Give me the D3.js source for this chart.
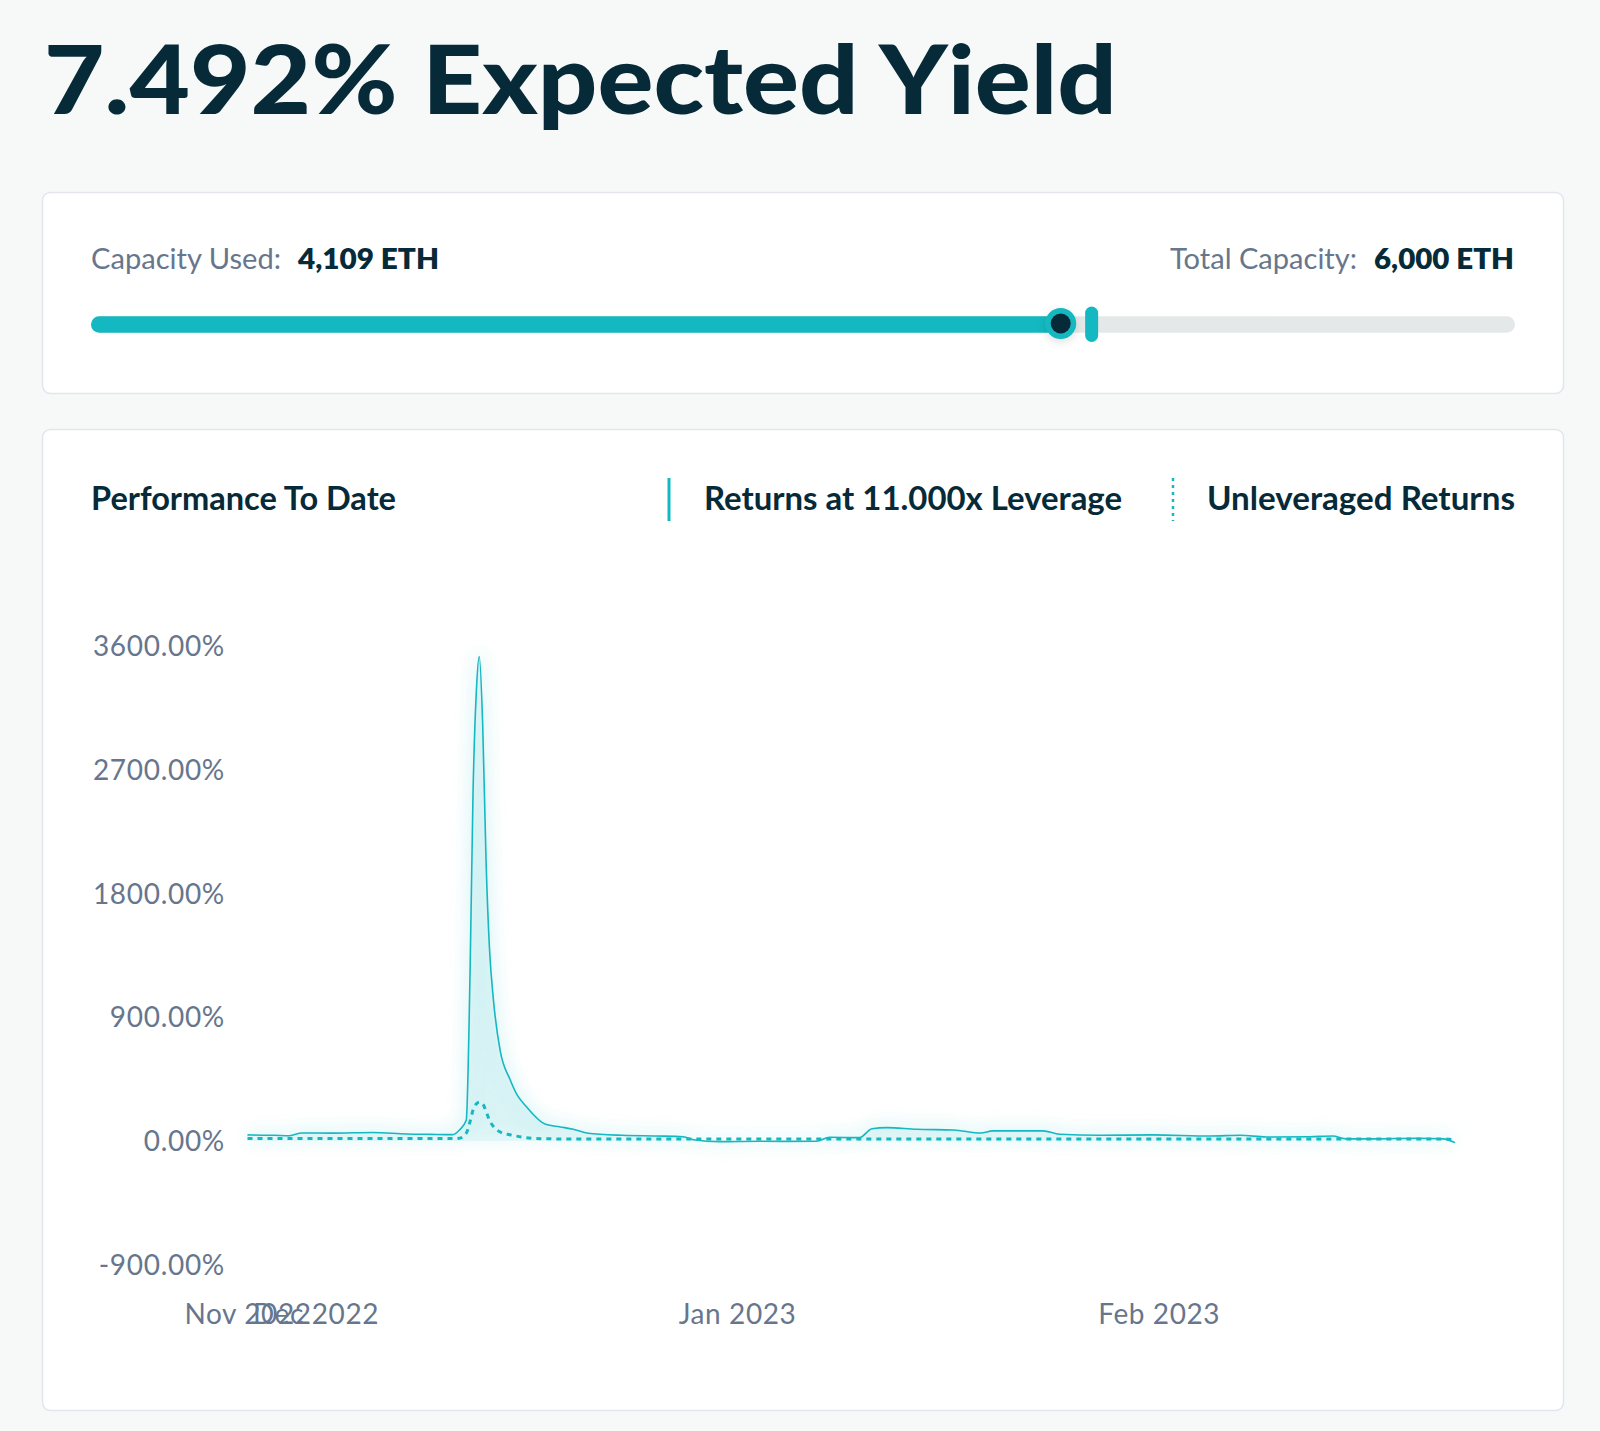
<!DOCTYPE html>
<html><head><meta charset="utf-8">
<script src="https://cdn.jsdelivr.net/npm/d3@7"></script>
<style>
html,body{margin:0;padding:0;background:#f7f9f9;}
svg{display:block;font-family:Lato,"Open Sans",sans-serif;}
</style></head><body>
<svg id="c" width="1600" height="1431"></svg>
<script>
// ---------- data ----------
const headline = "7.492% Expected Yield";
const capacityLabels = ["Capacity Used:", "Total Capacity:"];
const capacityValues = [4109, 6000];          // ETH used, ETH total
const capacityMarker = [4240];                 // position of the limit marker on the slider
const chartTitle = "Performance To Date";
const seriesNames = ["Returns at 11.000x Leverage", "Unleveraged Returns"];

const dates = [
 "2022-11-26T00:00Z","2022-11-27T00:00Z","2022-11-28T00:00Z","2022-11-29T02:00Z","2022-11-30T00:00Z",
 "2022-12-02T07:00Z","2022-12-05T05:00Z","2022-12-07T17:00Z","2022-12-09T12:00Z","2022-12-11T02:00Z",
 "2022-12-11T14:00Z","2022-12-12T02:00Z","2022-12-12T09:00Z","2022-12-12T14:00Z","2022-12-12T20:00Z",
 "2022-12-13T01:00Z","2022-12-13T07:00Z","2022-12-13T13:00Z","2022-12-13T19:00Z","2022-12-14T02:00Z",
 "2022-12-14T14:00Z","2022-12-15T07:00Z","2022-12-15T19:00Z","2022-12-16T12:00Z","2022-12-17T22:00Z",
 "2022-12-19T00:00Z","2022-12-19T23:00Z","2022-12-21T01:00Z","2022-12-23T14:00Z","2022-12-26T00:00Z",
 "2022-12-28T01:00Z","2022-12-28T19:00Z","2022-12-30T17:00Z","2023-01-02T17:00Z","2023-01-04T12:00Z",
 "2023-01-06T20:00Z","2023-01-07T19:00Z","2023-01-10T00:00Z","2023-01-10T22:00Z","2023-01-12T00:00Z",
 "2023-01-14T05:00Z","2023-01-16T22:00Z","2023-01-18T22:00Z","2023-01-19T19:00Z","2023-01-23T12:00Z",
 "2023-01-24T17:00Z","2023-01-27T17:00Z","2023-01-31T14:00Z","2023-02-04T19:00Z","2023-02-07T00:00Z",
 "2023-02-08T22:00Z","2023-02-12T02:00Z","2023-02-13T19:00Z","2023-02-14T19:00Z","2023-02-16T19:00Z",
 "2023-02-20T00:00Z","2023-02-21T22:00Z","2023-02-22T19:00Z"
];
const leveraged = [
 44,42,41,38,58,
 57,62,51,48,46,
 80,150,1280,2530,3280,
 3520,3030,2030,1400,1025,
 654,450,340,250,121,
 102,85,56,41,36,
 31,9,-5,-2,-3,
 -2,27,24,89,97,
 85,80,58,73,73,
 49,41,44,36,41,
 29,31,36,15,15,
 20,15,-12
];
const unleveraged = [
 17,17,17,17,17,
 17,17,17,17,17,
 20,56,145,225,270,
 282,270,215,150,105,
 65,45,35,24,16,
 15,15,15,15,15,
 15,15,15,15,15,
 15,15,15,15,15,
 15,15,15,15,15,
 15,15,15,15,15,
 15,15,15,15,15,
 15,15,7
];
const yTicks = [-900, 0, 900, 1800, 2700, 3600];
const xTickDates = ["2022-11-26T00:00Z","2022-12-01T00:00Z","2023-01-01T00:00Z","2023-02-01T00:00Z"];
const xTickLabels = ["Nov 2022","Dec 2022","Jan 2023","Feb 2023"];
const xDomain = ["2022-11-26T00:00Z","2023-02-23T00:00Z"];

// ---------- styles ----------
const TEAL = "#14b8c0", DARK = "#062a38", GREY = "#67768d";
const svg = d3.select("#c");
const defs = svg.append("defs");
defs.append("filter").attr("id","glow").attr("x","-30%").attr("y","-30%").attr("width","160%").attr("height","160%")
  .append("feGaussianBlur").attr("stdDeviation", 9);
const sh = defs.append("filter").attr("id","kshadow").attr("x","-50%").attr("y","-50%").attr("width","200%").attr("height","200%");
sh.append("feDropShadow").attr("dx",0).attr("dy",3).attr("stdDeviation",4).attr("flood-color","#000").attr("flood-opacity",0.12);

// headline
svg.append("text").attr("x",44).attr("y",114).attr("font-size",96).attr("font-weight",900)
  .attr("fill",DARK).attr("textLength",1073).attr("lengthAdjust","spacingAndGlyphs").text(headline);

// cards
svg.append("rect").attr("x",42.5).attr("y",192.5).attr("width",1521).attr("height",201).attr("rx",8)
  .attr("fill","#fff").attr("stroke","#e2e5ee").attr("stroke-width",1.5);
svg.append("rect").attr("x",42.5).attr("y",429.5).attr("width",1521).attr("height",981).attr("rx",8)
  .attr("fill","#fff").attr("stroke","#e2e5ee").attr("stroke-width",1.5);

// capacity row
const fmt = d3.format(",");
const capRow = [
  {t:capacityLabels[0], x:91, w:190, bold:false},
  {t:fmt(capacityValues[0])+" ETH", x:298, w:141, bold:true},
  {t:capacityLabels[1], x:1170, w:187, bold:false},
  {t:fmt(capacityValues[1])+" ETH", x:1374, w:140, bold:true}
];
svg.selectAll("text.cap").data(capRow).join("text").attr("class","cap")
  .attr("x",d=>d.x).attr("y",268.5).attr("font-size",28)
  .attr("font-weight",d=>d.bold?800:400).attr("fill",d=>d.bold?DARK:GREY)
  .attr("textLength",d=>d.w).attr("lengthAdjust","spacingAndGlyphs").text(d=>d.t);

// slider
const sx = d3.scaleLinear().domain([0, capacityValues[1]]).range([91, 1507]);
const trackY = 324.5;
svg.append("rect").attr("x",91).attr("y",trackY-8.25).attr("width",1424).attr("height",16.5).attr("rx",8.25).attr("fill","#e4e8e8");
svg.append("rect").attr("x",91).attr("y",trackY-8.25).attr("width",sx(capacityValues[0])-91).attr("height",16.5).attr("rx",8.25).attr("fill",TEAL);
svg.selectAll("rect.mark").data(capacityMarker).join("rect").attr("class","mark")
  .attr("x",d=>sx(d)-6.5).attr("y",306.5).attr("width",13).attr("height",35.5).attr("rx",6.5).attr("fill",TEAL);
svg.append("circle").attr("cx",sx(capacityValues[0])).attr("cy",trackY-1).attr("r",15.5).attr("fill",TEAL).attr("filter","url(#kshadow)");
svg.append("circle").attr("cx",sx(capacityValues[0])).attr("cy",trackY-1).attr("r",10).attr("fill",DARK);

// chart header + legend
const header = [
  {t:chartTitle, x:91, w:305},
  {t:seriesNames[0], x:704, w:418},
  {t:seriesNames[1], x:1207, w:308}
];
svg.selectAll("text.hdr").data(header).join("text").attr("class","hdr")
  .attr("x",d=>d.x).attr("y",510).attr("font-size",32).attr("font-weight",700).attr("fill",DARK)
  .attr("textLength",d=>d.w).attr("lengthAdjust","spacingAndGlyphs").text(d=>d.t);
svg.append("line").attr("x1",669).attr("x2",669).attr("y1",478).attr("y2",521).attr("stroke",TEAL).attr("stroke-width",3);
svg.append("line").attr("x1",1173).attr("x2",1173).attr("y1",478).attr("y2",521).attr("stroke",TEAL).attr("stroke-width",2.5).attr("stroke-dasharray","3,4");

// scales
const parse = s => new Date(s);
const x = d3.scaleUtc().domain(xDomain.map(parse)).range([247.5, 1457.9]);
const y = d3.scaleLinear().domain([-900, 3600]).range([1264.8, 645.6]);
const pts = dates.map((d,i)=>({d:parse(d), lev:leveraged[i], unl:unleveraged[i]}));

// axes
const yAxis = svg.append("g").attr("transform","translate(225,0)")
  .call(d3.axisLeft(y).tickValues(yTicks).tickSize(0).tickPadding(0).tickFormat(d=>d.toFixed(2)+"%"));
yAxis.select(".domain").remove();
yAxis.selectAll("text").attr("font-size",28).attr("letter-spacing","0.7px").attr("font-family","Lato, sans-serif").attr("fill",GREY).attr("dy","0.35em");

const xAxis = svg.append("g").attr("transform","translate(0,1323.5)")
  .call(d3.axisBottom(x).tickValues(xTickDates.map(parse)).tickSize(0).tickPadding(0)
    .tickFormat((d,i)=>xTickLabels[i]));
xAxis.select(".domain").remove();
xAxis.selectAll("text").attr("y",0).attr("dy",null).attr("font-size",28).attr("letter-spacing","0.6px").attr("font-family","Lato, sans-serif").attr("fill",GREY);

// series
const curve = d3.curveMonotoneX;
const area = d3.area().x(d=>x(d.d)).y0(y(0)).y1(d=>y(d.lev)).curve(curve);
const lineLev = d3.line().x(d=>x(d.d)).y(d=>y(d.lev)).curve(curve);
const lineUnl = d3.line().x(d=>x(d.d)).y(d=>y(d.unl)).curve(curve);

svg.append("path").datum(pts).attr("d",area).attr("fill",TEAL).attr("opacity",0.09).attr("filter","url(#glow)");
svg.append("path").datum(pts).attr("d",lineLev).attr("fill","none").attr("stroke",TEAL).attr("stroke-width",14).attr("opacity",0.07).attr("filter","url(#glow)");
svg.append("path").datum(pts).attr("d",area).attr("fill",TEAL).attr("opacity",0.07);
svg.append("path").datum(pts).attr("d",lineUnl).attr("fill","none").attr("stroke",TEAL).attr("stroke-width",3).attr("stroke-dasharray","5,5");
svg.append("path").datum(pts).attr("d",lineLev).attr("fill","none").attr("stroke",TEAL).attr("stroke-width",1.6);
</script>
</body></html>
